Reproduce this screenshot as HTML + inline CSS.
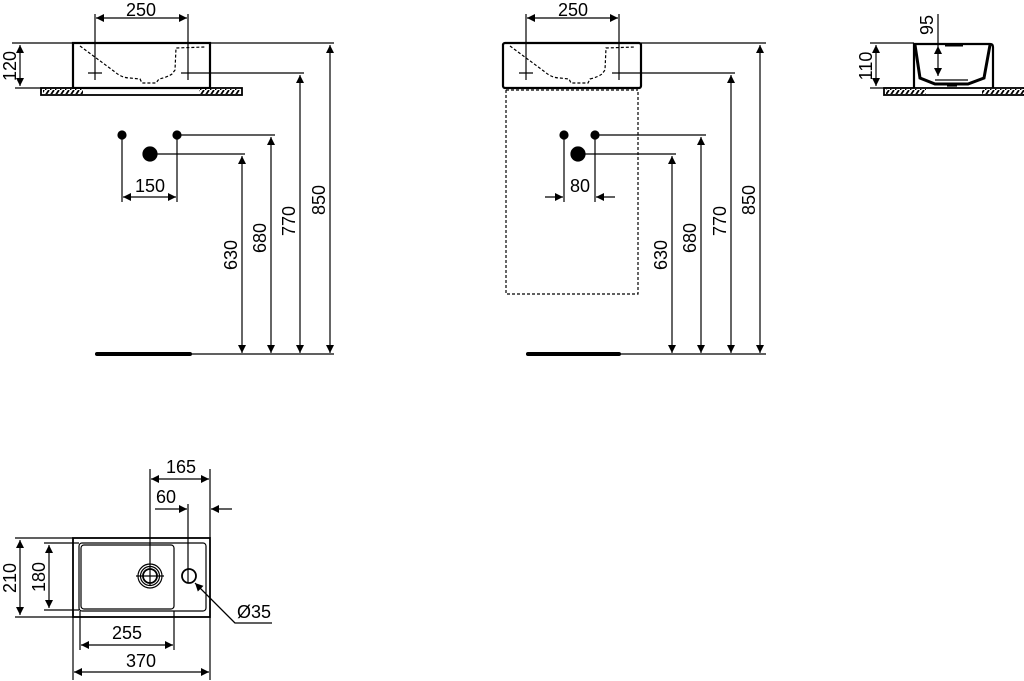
<!DOCTYPE html>
<html><head><meta charset="utf-8"><style>html,body{margin:0;padding:0;background:#fff}svg{display:block}text{font-family:"Liberation Sans",sans-serif;font-size:18px;fill:#000}</style></head><body>
<svg width="1024" height="681" viewBox="0 0 1024 681" xmlns="http://www.w3.org/2000/svg">
<defs>
<marker id="a" viewBox="0 0 10 10" refX="10" refY="5" markerWidth="11" markerHeight="8" markerUnits="userSpaceOnUse" orient="auto-start-reverse"><path d="M0,0L10,5L0,10z" fill="#000"/></marker>
<pattern id="h" width="5" height="6" patternUnits="userSpaceOnUse"><rect width="5" height="6" fill="#fff"/><path d="M0,6L4,0" stroke="#000" stroke-width="1.8"/></pattern>
</defs>
<g stroke="#000" fill="none" stroke-width="1.2">
<!-- LEFT VIEW -->
<rect x="73" y="43" width="137" height="45" stroke-width="2.2"/>
<path d="M80,46 L115,72 Q122,78 130,78 L140,79 L142,83 L156,83 L159,79 Q168,77 172,74 L175,70 L176,48 L205,47" stroke-dasharray="3,2"/>
<rect x="41" y="88" width="201" height="7" stroke-width="1.8"/>
<rect x="43" y="89" width="40" height="5" fill="url(#h)" stroke="none"/>
<rect x="199" y="89" width="41" height="5" fill="url(#h)" stroke="none"/>
<path d="M12,43H334 M15,88H73"/>
<path d="M20,45V86" marker-start="url(#a)" marker-end="url(#a)"/>
<path d="M95,14V80 M188,14V80"/><path d="M96,18H187" marker-start="url(#a)" marker-end="url(#a)"/>
<path d="M88,73H102 M181,73H195 M188,73H304"/>
<circle cx="122" cy="135" r="4" fill="#000"/><circle cx="177" cy="135" r="4" fill="#000"/><circle cx="150" cy="154" r="7" fill="#000"/>
<path d="M122,135V202 M177,135V202 M177,135H275 M150,154H245"/>
<path d="M123,197H176" marker-start="url(#a)" marker-end="url(#a)"/>
<path d="M242,156V353" marker-start="url(#a)" marker-end="url(#a)"/>
<path d="M271,137V353" marker-start="url(#a)" marker-end="url(#a)"/>
<path d="M300,75V353" marker-start="url(#a)" marker-end="url(#a)"/>
<path d="M330,45V353" marker-start="url(#a)" marker-end="url(#a)"/>
<path d="M95,354H334"/><path d="M97,354H190" stroke-width="4" stroke-linecap="round"/>
<!-- MIDDLE VIEW -->
<rect x="503" y="43" width="138" height="45" rx="2" stroke-width="2.2"/>
<path d="M510,46 L545,72 Q552,78 560,78 L569,79 L571,83 L588,83 L590,79 Q598,77 602,74 L605,70 L606,48 L635,47" stroke-dasharray="3,2"/>
<path d="M506,90V294H638V90 M506,90H638" stroke-dasharray="3,2"/>
<path d="M641,43H766"/>
<path d="M526,14V80 M619,14V80"/><path d="M527,18H618" marker-start="url(#a)" marker-end="url(#a)"/>
<path d="M519,73H533 M612,73H626 M619,73H735"/>
<circle cx="564" cy="135" r="4" fill="#000"/><circle cx="595" cy="135" r="4" fill="#000"/><circle cx="578" cy="154" r="7" fill="#000"/>
<path d="M564,135V202 M595,135V202 M595,135H706 M578,154H676"/>
<path d="M545,197H563" marker-end="url(#a)"/><path d="M615,197H596" marker-end="url(#a)"/>
<path d="M672,156V353" marker-start="url(#a)" marker-end="url(#a)"/>
<path d="M701,137V353" marker-start="url(#a)" marker-end="url(#a)"/>
<path d="M731,75V353" marker-start="url(#a)" marker-end="url(#a)"/>
<path d="M760,45V353" marker-start="url(#a)" marker-end="url(#a)"/>
<path d="M526,354H766"/><path d="M528,354H619" stroke-width="4" stroke-linecap="round"/>
<!-- RIGHT VIEW -->
<path d="M914,88V44H990Q993,44 993,47V88" stroke-width="2.2"/>
<path d="M915,45 L920,78 L935,84 L968,84 L984,78 L990,45" stroke-width="3"/>
<path d="M935,80H968 M947,86H957"/>
<path d="M945,45.5H963" stroke-width="2"/>
<rect x="884" y="88" width="140" height="7" stroke-width="1.8"/>
<rect x="886" y="89" width="40" height="5" fill="url(#h)" stroke="none"/>
<rect x="982" y="89" width="42" height="5" fill="url(#h)" stroke="none"/>
<path d="M870,43H914 M870,88H914"/>
<path d="M876,45V86" marker-start="url(#a)" marker-end="url(#a)"/>
<path d="M938,14V46"/><path d="M938,46V76" marker-start="url(#a)" marker-end="url(#a)"/>
<!-- BOTTOM VIEW -->
<rect x="73" y="538" width="137" height="79" stroke-width="1.8"/>
<rect x="79" y="543" width="127" height="68" rx="3"/>
<rect x="81" y="545" width="93" height="64" rx="3"/>
<circle cx="150" cy="576" r="12"/><circle cx="150" cy="576" r="9.5"/><circle cx="150" cy="576" r="7" stroke-width="1.8"/>
<path d="M136,576H164"/>
<circle cx="189" cy="576" r="7" stroke-width="1.8"/>
<path d="M150,469V586 M210,469V538 M188,504V583"/>
<path d="M151,479H209" marker-start="url(#a)" marker-end="url(#a)"/>
<path d="M155,509H187" marker-end="url(#a)"/><path d="M232,509H211" marker-end="url(#a)"/>
<path d="M15,538H73 M15,617H73 M44,543H79 M44,610H79"/>
<path d="M20,540V615" marker-start="url(#a)" marker-end="url(#a)"/>
<path d="M49,545V608" marker-start="url(#a)" marker-end="url(#a)"/>
<path d="M80,611V650 M174,611V650 M73,617V680 M210,617V680"/>
<path d="M81,645H173" marker-start="url(#a)" marker-end="url(#a)"/>
<path d="M74,672H209" marker-start="url(#a)" marker-end="url(#a)"/>
<path d="M272,623H235L197,585"/><path d="M235,623L195,583" marker-end="url(#a)"/>
</g>
<g>
<text x="141" y="16" text-anchor="middle">250</text>
<text x="573" y="16" text-anchor="middle">250</text>
<text x="150" y="192" text-anchor="middle">150</text>
<text x="580" y="192" text-anchor="middle">80</text>
<text transform="translate(16,66) rotate(-90)" text-anchor="middle">120</text>
<text transform="translate(237,255) rotate(-90)" text-anchor="middle">630</text>
<text transform="translate(266,238) rotate(-90)" text-anchor="middle">680</text>
<text transform="translate(295,221) rotate(-90)" text-anchor="middle">770</text>
<text transform="translate(325,200) rotate(-90)" text-anchor="middle">850</text>
<text transform="translate(667,255) rotate(-90)" text-anchor="middle">630</text>
<text transform="translate(696,238) rotate(-90)" text-anchor="middle">680</text>
<text transform="translate(726,221) rotate(-90)" text-anchor="middle">770</text>
<text transform="translate(755,200) rotate(-90)" text-anchor="middle">850</text>
<text transform="translate(872,66) rotate(-90)" text-anchor="middle">110</text>
<text transform="translate(933,25) rotate(-90)" text-anchor="middle">95</text>
<text x="181" y="473" text-anchor="middle">165</text>
<text x="166" y="503" text-anchor="middle">60</text>
<text transform="translate(16,578) rotate(-90)" text-anchor="middle">210</text>
<text transform="translate(45,577) rotate(-90)" text-anchor="middle">180</text>
<text x="127" y="639" text-anchor="middle">255</text>
<text x="141" y="667" text-anchor="middle">370</text>
<text x="237" y="618">Ø35</text>
</g>
</svg>
</body></html>
